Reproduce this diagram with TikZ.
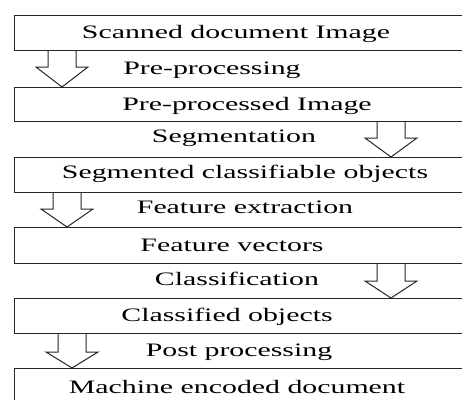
\documentclass[tikz,border=0pt]{standalone}
\usepackage{fontspec}
\usepackage{graphicx}
\setmainfont{Liberation Serif}
\usetikzlibrary{calc}
\newcommand\stretched[1]{\scalebox{1.57}[1]{#1}}
\newcommand\flowarrow[4]{% from, to, left offset of arrow centre, head height
  \draw[arrowline] let \p1=(#1.south west), \p2=(#2.north west) in
    (\x1+#3-14pt,\y1) -- (\x1+#3-14pt,\y2+#4) -- (\x1+#3-26pt,\y2+#4) --
    (\x1+#3,\y2) -- (\x1+#3+26pt,\y2+#4) -- (\x1+#3+14pt,\y2+#4) -- (\x1+#3+14pt,\y1);}
\begin{document}
\begin{tikzpicture}[x=1pt,y=-1pt,
  box/.style={draw=black!85, line width=1pt, minimum width=456pt, inner sep=0pt, outer sep=0pt, anchor=north west},
  arrowline/.style={draw=black!85, line width=1pt, line join=miter},
  lbl/.style={anchor=base, inner sep=0pt, font=\fontsize{19}{19}\selectfont, text=black}]
\useasboundingbox (0,0) rectangle (462,399);
\clip (0,0) rectangle (462,399);
\node[box, minimum height=35pt] (b1) at (14,15) {};
\node[box, minimum height=34pt] (b2) at (14,87) {};
\node[box, minimum height=35pt] (b3) at (14,157) {};
\node[box, minimum height=36pt] (b4) at (14,227) {};
\node[box, minimum height=35pt] (b5) at (14,298) {};
\node[box, minimum height=45pt] (b6) at (14,368) {};
\node[lbl] (t1) at (236,38) {\stretched{Scanned document Image}};
\node[lbl] (t2) at (247,110) {\stretched{Pre-processed Image}};
\node[lbl] (t3) at (245,178) {\stretched{Segmented classifiable objects}};
\node[lbl] (t4) at (232,251) {\stretched{Feature vectors}};
\node[lbl] (t5) at (227,321) {\stretched{Classified objects}};
\node[lbl] (t6) at (237,393) {\stretched{Machine encoded document}};
\node[lbl] (s1) at (212,74) {\stretched{Pre-processing}};
\node[lbl] (s2) at (234,142) {\stretched{Segmentation}};
\node[lbl] (s3) at (245,213) {\stretched{Feature extraction}};
\node[lbl] (s4) at (237,285) {\stretched{Classification}};
\node[lbl] (s5) at (239,356) {\stretched{Post processing}};
\flowarrow{b1}{b2}{48pt}{20pt}
\flowarrow{b2}{b3}{377pt}{19pt}
\flowarrow{b3}{b4}{53pt}{18pt}
\flowarrow{b4}{b5}{377pt}{17pt}
\flowarrow{b5}{b6}{58pt}{16pt}
\end{tikzpicture}
\end{document}
